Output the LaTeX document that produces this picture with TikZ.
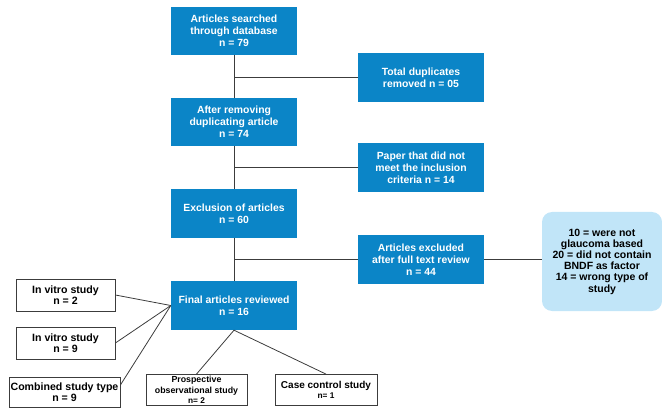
\documentclass[tikz,border=0pt]{standalone}
\usepackage{fontspec}
\setmainfont{Liberation Sans}
\usetikzlibrary{positioning}
\definecolor{stepblue}{RGB}{11,133,199}
\definecolor{noteblue}{RGB}{193,229,248}
\definecolor{linegray}{RGB}{60,60,60}

\begin{document}
\begin{tikzpicture}[x=1pt,y=-1pt]
    \tikzstyle{mainbox}=[rectangle,fill=stepblue,text=white,font=\bfseries\fontsize{10.4}{12}\selectfont,align=center,minimum width=126pt,minimum height=48pt,inner sep=0pt]
    \tikzstyle{studybox}=[rectangle,draw=linegray,line width=0.8pt,fill=white,font=\bfseries\fontsize{10.6}{11}\selectfont,align=center,minimum width=99pt,minimum height=32pt,inner sep=0pt]
    \tikzstyle{link}=[draw=linegray,line width=0.8pt]
    \useasboundingbox (0,0) rectangle (662,409);
    \node[mainbox] (search) at (234,31) {Articles searched\\through database\\n = 79};
    \node[mainbox] (nodup) at (234,122) {After removing\\duplicating article\\n = 74};
    \node[mainbox,minimum height=49pt] (exclusion) at (234,213.5) {Exclusion of articles\\n = 60};
    \node[mainbox,minimum height=49pt] (final) at (234,305.5) {Final articles reviewed\\n = 16};
    \node[mainbox,minimum height=49pt] (dup) at (421,77.5) {Total duplicates\\removed n = 05};
    \node[mainbox,minimum height=49pt] (criteria) at (421,167.5) {Paper that did not\\meet the inclusion\\criteria n = 14};
    \node[mainbox,minimum height=49pt] (fulltext) at (421,259.5) {Articles excluded\\after full text review\\n = 44};
    \node[rectangle,rounded corners=10pt,fill=noteblue,align=center,font=\bfseries\fontsize{10.5}{11.2}\selectfont,minimum width=120pt,minimum height=99pt,inner sep=0pt] (reasons) at (602,261.5) {10 = were not\\glaucoma based\\20 = did not contain\\BNDF as factor\\14 = wrong type of\\study};
    \node[studybox] (vitro1) at (65.5,295) {In vitro study\\n = 2};
    \node[studybox] (vitro2) at (65.5,343) {In vitro study\\n = 9};
    \node[studybox,minimum width=111pt,minimum height=30pt] (combined) at (64.5,392) {Combined study type\\n = 9};
    \node[studybox,minimum width=101pt,minimum height=31pt,font=\bfseries\fontsize{8.8}{10.5}\selectfont] (prosp) at (196.5,390) {Prospective\\observational study\\{\fontsize{8.3}{9}\selectfont n= 2}};
    \node[studybox,minimum width=102pt,minimum height=31pt,font=\bfseries\fontsize{10}{10.5}\selectfont] (casecontrol) at (326,390) {Case control study\\{\fontsize{8.3}{9}\selectfont n= 1}};
    \draw[link] (search) -- (nodup);
    \draw[link] (nodup) -- (exclusion);
    \draw[link] (exclusion) -- (final);
    \draw[link] (dup.west) -- (dup.west -| search.south);
    \draw[link] (criteria.west) -- (criteria.west -| search.south);
    \draw[link] (fulltext.west) -- (fulltext.west -| search.south);
    \draw[link] (fulltext.east) -- (fulltext.east -| reasons.west);
    \draw[link] (vitro1.east) -- (final.west);
    \draw[link] (vitro2.east) -- (final.west);
    \draw[link] ([yshift=7pt]combined.east) -- (final.west);
    \draw[link] (final.south) -- (prosp.north);
    \draw[link] (final.south) -- (casecontrol.north);
\end{tikzpicture}
\end{document}
